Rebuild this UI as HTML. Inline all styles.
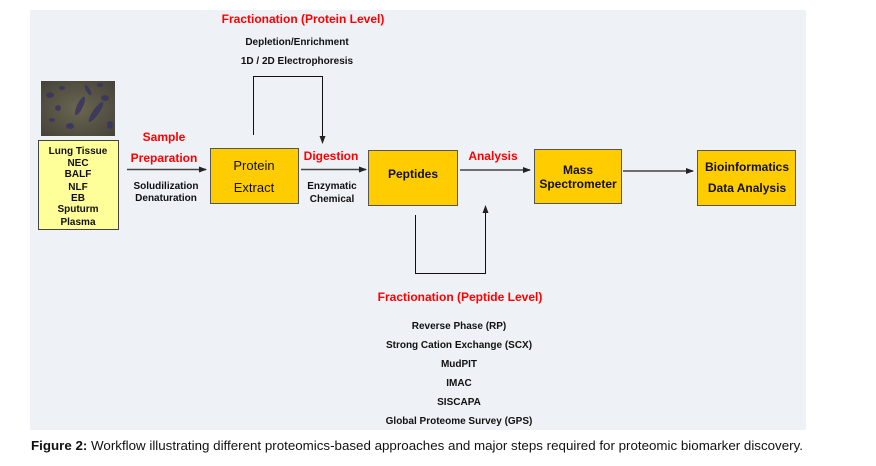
<!DOCTYPE html>
<html><head><style>
body{margin:0;width:876px;height:461px;background:#fff;overflow:hidden;font-family:"Liberation Sans",Arial,sans-serif}
</style></head><body>
<svg width="876" height="461" xmlns="http://www.w3.org/2000/svg" font-family="Liberation Sans, Arial, sans-serif">
<defs>
<marker id="a" markerWidth="8" markerHeight="8" refX="7" refY="4" orient="auto" markerUnits="userSpaceOnUse"><path d="M0,1 L8,4 L0,7 z" fill="#222"/></marker>
<radialGradient id="g" cx="50%" cy="50%" r="70%"><stop offset="0" stop-color="#6a6650"/><stop offset="1" stop-color="#45423a"/></radialGradient>
</defs>
<rect x="30" y="10" width="776" height="420" fill="#eef1f6"/>
<rect x="41" y="81" width="74" height="55" fill="url(#g)"/>
<g fill="#3a3560" opacity="0.85">
<ellipse cx="50" cy="95" rx="4" ry="3"/><ellipse cx="62" cy="88" rx="3" ry="2"/>
<ellipse cx="80" cy="106" rx="3" ry="10" transform="rotate(25 80 106)"/>
<ellipse cx="96" cy="112" rx="3" ry="12" transform="rotate(35 96 112)"/>
<ellipse cx="105" cy="98" rx="4" ry="3"/><ellipse cx="70" cy="126" rx="4" ry="3"/>
<ellipse cx="52" cy="120" rx="3" ry="2"/><ellipse cx="110" cy="125" rx="3" ry="4"/>
<ellipse cx="88" cy="90" rx="2" ry="6" transform="rotate(-30 88 90)"/>
<ellipse cx="58" cy="108" rx="3" ry="3"/><ellipse cx="100" cy="85" rx="3" ry="2"/>
</g>
<rect x="38.5" y="140.5" width="80" height="89" fill="#ffff99" stroke="#444"/>
<g font-size="10" font-weight="bold" text-anchor="middle" fill="#111">
<text x="78" y="154">Lung Tissue</text><text x="78" y="166">NEC</text><text x="78" y="177">BALF</text>
<text x="78" y="190">NLF</text><text x="78" y="201">EB</text><text x="78" y="212">Sputurm</text><text x="78" y="225">Plasma</text>
</g>
<g fill="#ffcc00" stroke="#555">
<rect x="210.5" y="148.5" width="88" height="55"/>
<rect x="368.5" y="150.5" width="89" height="55"/>
<rect x="534.5" y="149.5" width="87" height="54"/>
<rect x="697.5" y="150.5" width="98" height="55"/>
</g>
<g font-size="12" text-anchor="middle" fill="#111">
<text x="254" y="170" font-size="13">Protein</text><text x="254" y="192" font-size="13">Extract</text>
<text x="413" y="178" font-weight="bold">Peptides</text>
<text x="578" y="174" font-weight="bold">Mass</text><text x="578" y="188" font-weight="bold">Spectrometer</text>
<text x="747" y="171" font-weight="bold">Bioinformatics</text><text x="747" y="192" font-weight="bold">Data Analysis</text>
</g>
<g stroke="#444" stroke-width="1.5" fill="none" marker-end="url(#a)">
<line x1="127" y1="169.5" x2="206" y2="169.5"/>
<line x1="301" y1="169.5" x2="366" y2="169.5"/>
<line x1="460" y1="170" x2="530" y2="170"/>
<line x1="623" y1="171" x2="693" y2="171"/>
</g>
<g stroke="#111" stroke-width="1" fill="none">
<polyline points="253.5,135 253.5,76.5 322.5,76.5 322.5,143" marker-end="url(#a)"/>
<polyline points="415.5,215 415.5,273.5 485.5,273.5 485.5,206" marker-end="url(#a)"/>
</g>
<g fill="#ff0000" font-size="12" font-weight="bold" text-anchor="middle">
<text x="303" y="23">Fractionation (Protein Level)</text>
<text x="164" y="141">Sample</text><text x="164" y="162">Preparation</text>
<text x="331" y="160">Digestion</text>
<text x="493" y="160">Analysis</text>
<text x="460" y="301">Fractionation (Peptide Level)</text>
</g>
<g font-size="10" font-weight="bold" text-anchor="middle" fill="#111">
<text x="297" y="45">Depletion/Enrichment</text>
<text x="297" y="64">1D / 2D Electrophoresis</text>
<text x="166" y="189">Soludilization</text><text x="166" y="201">Denaturation</text>
<text x="332" y="189">Enzymatic</text><text x="332" y="202">Chemical</text>
<text x="459" y="329">Reverse Phase (RP)</text>
<text x="459" y="348">Strong Cation Exchange (SCX)</text>
<text x="459" y="367">MudPIT</text>
<text x="459" y="386">IMAC</text>
<text x="459" y="405">SISCAPA</text>
<text x="459" y="424">Global Proteome Survey (GPS)</text>
</g>
<text x="31" y="450" font-size="13" fill="#111" textLength="772" lengthAdjust="spacingAndGlyphs"><tspan font-weight="bold">Figure 2:</tspan> Workflow illustrating different proteomics-based approaches and major steps required for proteomic biomarker discovery.</text>
</svg>
</body></html>
